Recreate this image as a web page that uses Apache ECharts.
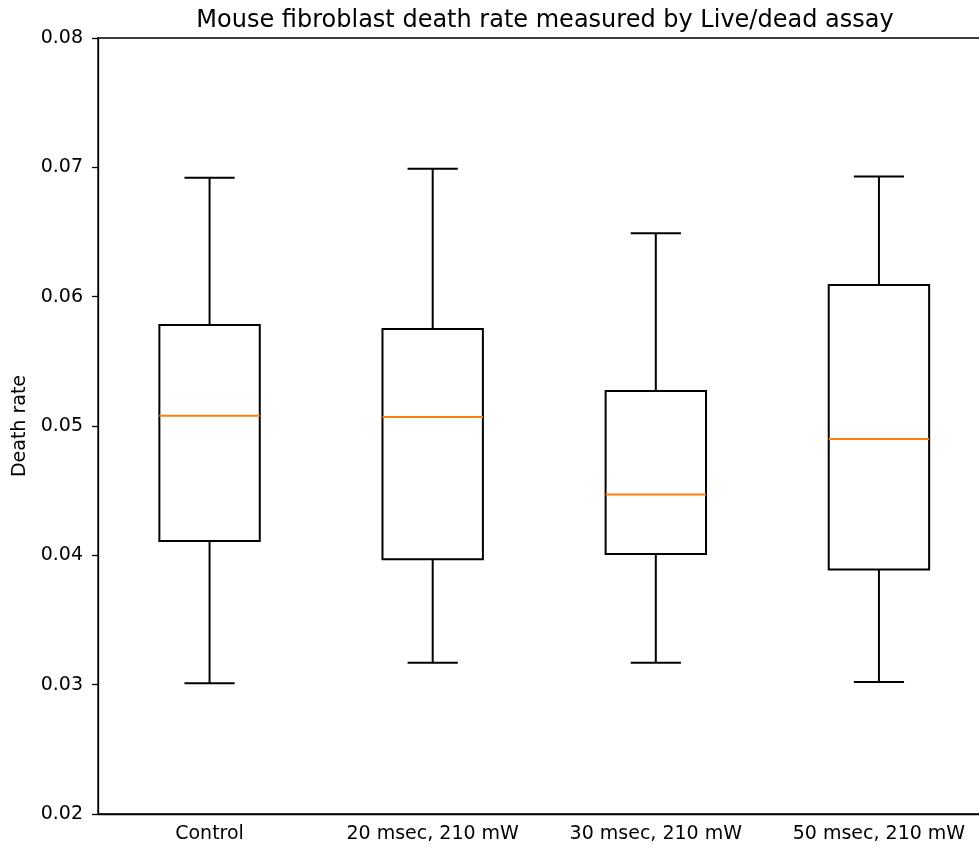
<!DOCTYPE html>
<html>
<head>
<meta charset="utf-8">
<script src="https://cdn.jsdelivr.net/npm/echarts@6/dist/echarts.min.js"></script>
<style>
  html, body { margin: 0; padding: 0; background: #fff; overflow: hidden; }
  /* the reference figure is cropped on the right, so the chart runs past the window */
  #chart { width: 991px; height: 849px; }
</style>
</head>
<body>
<div id="chart"></div>
<script>
// groups and box statistics
const categories = ['Control', '20 msec, 210 mW', '30 msec, 210 mW', '50 msec, 210 mW']
const whiskerLow = [0.0301, 0.0317, 0.0317, 0.0302]
const q1 = [0.0411, 0.0397, 0.0401, 0.0389]
const median = [0.0508, 0.0507, 0.0447, 0.0490]
const q3 = [0.0578, 0.0575, 0.0527, 0.0609]
const whiskerHigh = [0.0692, 0.0699, 0.0649, 0.0693]

const yTicks = { min: 0.02, max: 0.08, step: 0.01 }

const rows = categories.map((c, i) => [i, whiskerLow[i], q1[i], median[i], q3[i], whiskerHigh[i]])

const chart = echarts.init(document.getElementById('chart'))
const font = 'DejaVu Sans'

function renderBox(params, api) {
    const i = api.value(0)
    const band = api.size([1, 0])[0]
    const boxHalf = band * 0.45 / 2
    const capHalf = boxHalf / 2
    const pLow = api.coord([i, api.value(1)])
    const pQ1 = api.coord([i, api.value(2)])
    const pMed = api.coord([i, api.value(3)])
    const pQ3 = api.coord([i, api.value(4)])
    const pHigh = api.coord([i, api.value(5)])
    const x = pQ1[0]
    const black = { stroke: '#000', lineWidth: 2, fill: null }
    return {
        type: 'group',
        children: [
            { type: 'rect', shape: { x: x - boxHalf, y: pQ3[1], width: boxHalf * 2, height: pQ1[1] - pQ3[1] }, style: black },
            { type: 'line', shape: { x1: x, y1: pQ1[1], x2: x, y2: pLow[1] }, style: black },
            { type: 'line', shape: { x1: x, y1: pQ3[1], x2: x, y2: pHigh[1] }, style: black },
            { type: 'line', shape: { x1: x - capHalf, y1: pLow[1], x2: x + capHalf, y2: pLow[1] }, style: black },
            { type: 'line', shape: { x1: x - capHalf, y1: pHigh[1], x2: x + capHalf, y2: pHigh[1] }, style: black },
            { type: 'line', shape: { x1: x - boxHalf, y1: pMed[1], x2: x + boxHalf, y2: pMed[1] }, style: { stroke: '#ff7f0e', lineWidth: 2 } }
        ]
    }
}

const options = {
    animation: false,
    backgroundColor: '#fff',
    title: {
        text: 'Mouse fibroblast death rate measured by Live/dead assay',
        left: 540,
        top: 4,
        textAlign: 'center',
        textStyle: { fontFamily: font, fontSize: 24, fontWeight: 'normal', color: '#000' }
    },
    grid: {
        left: 98, top: 38, right: 0.5, bottom: 35,
        show: true, borderColor: '#000', borderWidth: 1.3, backgroundColor: 'transparent'
    },
    xAxis: {
        type: 'category',
        data: categories,
        boundaryGap: true,
        axisLine: { lineStyle: { color: '#000', width: 1.3 } },
        axisTick: { alignWithLabel: true, length: 5, lineStyle: { color: '#000', width: 1.3 } },
        axisLabel: { interval: 0, margin: 11, color: '#000', fontFamily: font, fontSize: 19 },
        splitLine: { show: false }
    },
    yAxis: {
        type: 'value',
        min: yTicks.min,
        max: yTicks.max,
        interval: yTicks.step,
        name: 'Death rate',
        nameLocation: 'middle',
        nameRotate: 90,
        nameGap: 67,
        nameTextStyle: { fontFamily: font, fontSize: 19, color: '#000' },
        axisLine: { show: true, lineStyle: { color: '#000', width: 1.3 } },
        axisTick: { show: true, length: 6, lineStyle: { color: '#000', width: 1.3 } },
        axisLabel: { margin: 15, color: '#000', fontFamily: font, fontSize: 19, formatter: v => v.toFixed(2) },
        splitLine: { show: false }
    },
    series: [
        {
            type: 'custom',
            renderItem: renderBox,
            encode: { x: 0, y: [1, 2, 3, 4, 5] },
            data: rows
        }
    ]
}
chart.setOption(options, true)
</script>
</body>
</html>
